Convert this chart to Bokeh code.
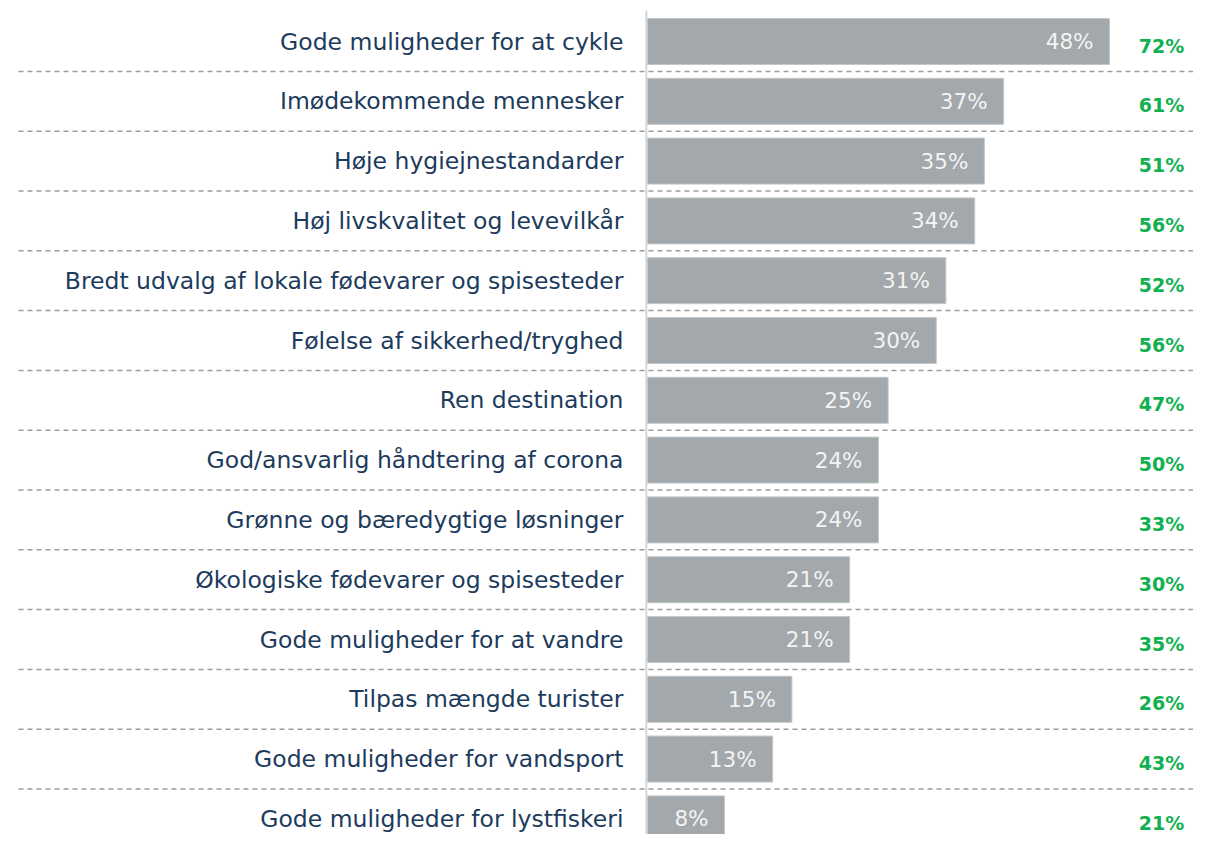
from bokeh.plotting import figure
from bokeh.models import ColumnDataSource, Range1d
from bokeh.core.properties import value
from bokeh.embed import file_html
from bokeh.resources import INLINE

categories = [
    "Gode muligheder for at cykle",
    "Imødekommende mennesker",
    "Høje hygiejnestandarder",
    "Høj livskvalitet og levevilkår",
    "Bredt udvalg af lokale fødevarer og spisesteder",
    "Følelse af sikkerhed/tryghed",
    "Ren destination",
    "God/ansvarlig håndtering af corona",
    "Grønne og bæredygtige løsninger",
    "Økologiske fødevarer og spisesteder",
    "Gode muligheder for at vandre",
    "Tilpas mængde turister",
    "Gode muligheder for vandsport",
    "Gode muligheder for lystfiskeri",
]
share = [48, 37, 35, 34, 31, 30, 25, 24, 24, 21, 21, 15, 13, 8]
total = [72, 61, 51, 56, 52, 56, 47, 50, 33, 30, 35, 26, 43, 21]

FONT = "DejaVu Sans"
NAVY = "#1D3B5C"
BAR = "#A2A8AB"
GREEN = "#12B04F"

W, H = 1193, 834
PX = 9.625      # pixels per percentage point
X0 = 647        # pixel position of 0 %
ROW = 59.8      # pixels per row
TOP = 41        # pixel position of first row centre

n = len(categories)
ys = [-i for i in range(n)]
src = ColumnDataSource(dict(
    y=ys,
    cat=categories,
    v=share,
    vlab=[f"{s}%" for s in share],
    tlab=[f"{t}%" for t in total],
))

p = figure(width=W, height=H,
           x_range=Range1d(-X0 / PX, (W - X0) / PX),
           y_range=Range1d(-(H - TOP) / ROW, TOP / ROW),
           output_backend="svg", toolbar_location=None,
           x_axis_location=None, y_axis_location=None,
           min_border=0)
p.grid.visible = False
p.outline_line_color = None
p.background_fill_color = "white"

# separators between rows
sep_y = [-(i + 0.5) for i in range(n - 1)]
p.segment(x0=[(18 - X0) / PX] * len(sep_y), x1=[(W - X0) / PX] * len(sep_y),
          y0=sep_y, y1=sep_y, line_color="#9C9C9C", line_width=1.5,
          line_dash="5 4")

# vertical axis line
p.segment(x0=[-0.12], x1=[-0.12], y0=[TOP / ROW - 10 / ROW], y1=[-(H - TOP) / ROW],
          line_color="#D6D6D6", line_width=2)

p.hbar(y="y", left=0, right="v", height=0.77, source=src,
       fill_color=BAR, line_color="#C4C8CA", line_width=1)

p.text(x=-2.5, y="y", text="cat", source=src, text_align="right",
       text_baseline="middle", text_font=value(FONT), text_font_size="23.5px",
       text_color=NAVY)

p.text(x="v", y="y", text="vlab", source=src, x_offset=-16, text_align="right",
       text_baseline="middle", text_font=value(FONT), text_font_size="21.5px",
       text_color="#F4F4F4")

p.text(x=(1161 - X0) / PX, y="y", y_offset=4, text="tlab", source=src,
       text_align="center", text_baseline="middle", text_font=value(FONT),
       text_font_size="19px", text_font_style="bold", text_color=GREEN)

open("out.html", "w").write(file_html(p, INLINE))
